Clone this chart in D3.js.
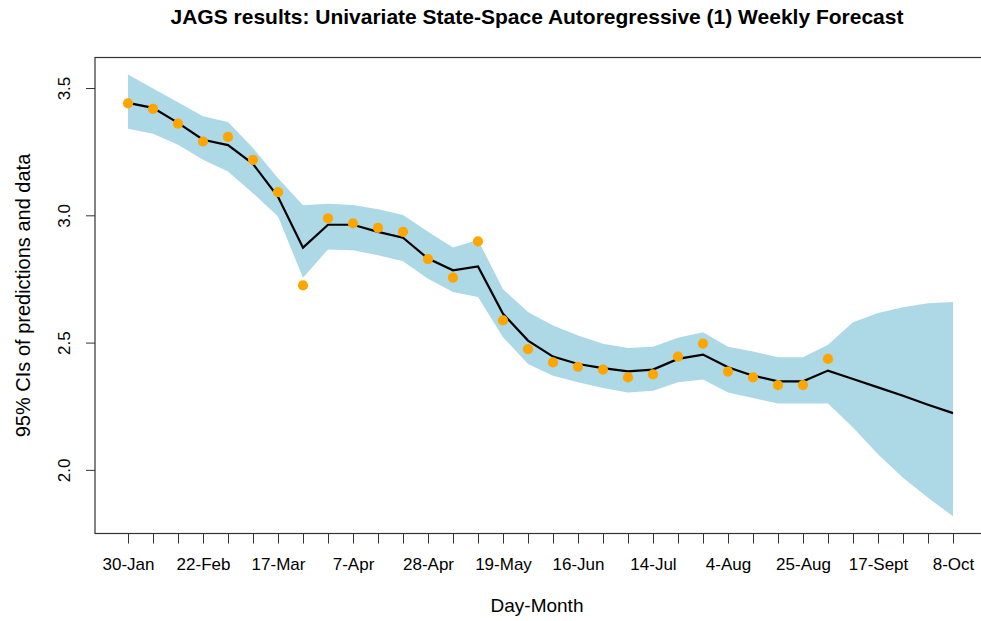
<!DOCTYPE html>
<meta charset="utf-8">
<style>
  body { margin: 0; background: #fff; }
  text { font-family: "Liberation Sans", Arial, sans-serif; fill: #000; }
  .band { fill: #add8e6; }
  .line { fill: none; stroke: #000; stroke-width: 2.2; }
  .dot { fill: #ffa500; }
  .axis path { display: none; }
  .axis line { stroke: #333; }
</style>

<body>
  <script src="https://d3js.org/d3.v7.min.js"></script>
  <script>

    // weekly labels (every 3rd week) and the series
    var tickLabels = ["30-Jan", "22-Feb", "17-Mar", "7-Apr", "28-Apr", "19-May",
      "16-Jun", "14-Jul", "4-Aug", "25-Aug", "17-Sept", "8-Oct"];

    var observed = [3.44, 3.418, 3.36, 3.29, 3.308, 3.218, 3.091, 2.725, 2.988, 2.968,
      2.951, 2.935, 2.828, 2.755, 2.898, 2.587, 2.474, 2.422, 2.405, 2.394,
      2.363, 2.375, 2.445, 2.496, 2.386, 2.363, 2.333, 2.333, 2.436];

    var predMean = [3.442, 3.422, 3.363, 3.297, 3.276, 3.202, 3.073, 2.873, 2.963, 2.963,
      2.935, 2.912, 2.83, 2.784, 2.799, 2.613, 2.508, 2.445, 2.416, 2.40,
      2.387, 2.394, 2.436, 2.453, 2.403, 2.37, 2.348, 2.348, 2.39, 2.357,
      2.324, 2.291, 2.256, 2.223];

    var predUpper = [3.553, 3.498, 3.444, 3.389, 3.367, 3.264, 3.146, 3.04, 3.045, 3.041,
      3.024, 3.001, 2.935, 2.874, 2.903, 2.71, 2.62, 2.567, 2.528, 2.495,
      2.479, 2.484, 2.519, 2.541, 2.484, 2.465, 2.442, 2.442, 2.492, 2.58,
      2.616, 2.639, 2.655, 2.659];

    var predLower = [3.34, 3.32, 3.277, 3.218, 3.172, 3.087, 2.995, 2.755, 2.866, 2.863,
      2.843, 2.82, 2.751, 2.699, 2.679, 2.521, 2.416, 2.37, 2.344, 2.322,
      2.304, 2.311, 2.344, 2.355, 2.304, 2.282, 2.261, 2.261, 2.261, 2.166,
      2.061, 1.969, 1.89, 1.818];

    var yTicks = [2.0, 2.5, 3.0, 3.5];

    // plot region (right edge falls just outside the window)
    var margin = { top: 57.5, right: 0, bottom: 87.5, left: 95 },
      plotW = 986 - margin.left,
      plotH = 621 - margin.top - margin.bottom;

    var n = predMean.length;
    var x = d3.scaleLinear().domain([-1.32, n - 1 + 1.32]).range([0, plotW]);
    var y = d3.scaleLinear().domain([1.75, 3.62]).range([plotH, 0]);

    var svg = d3.select("body").append("svg")
      .attr("width", 981)
      .attr("height", 621);

    var g = svg.append("g")
      .attr("transform", "translate(" + margin.left + "," + margin.top + ")");

    // credible interval band
    var area = d3.area()
      .x(function (d, i) { return x(i); })
      .y0(function (d, i) { return y(predLower[i]); })
      .y1(function (d, i) { return y(predUpper[i]); });

    g.append("path")
      .datum(predMean)
      .attr("class", "band")
      .attr("d", area);

    // predicted mean
    var line = d3.line()
      .x(function (d, i) { return x(i); })
      .y(function (d) { return y(d); });

    g.append("path")
      .datum(predMean)
      .attr("class", "line")
      .attr("d", line);

    // observed data
    g.selectAll(".dot")
      .data(observed)
      .enter().append("circle")
      .attr("class", "dot")
      .attr("cx", function (d, i) { return x(i); })
      .attr("cy", function (d) { return y(d); })
      .attr("r", 5.1);

    // box
    g.append("rect")
      .attr("width", plotW)
      .attr("height", plotH)
      .attr("fill", "none")
      .attr("stroke", "#333")
      .attr("stroke-width", 1.2);

    // x axis: a tick every week, a label every third week
    var xAxis = g.append("g")
      .attr("class", "axis")
      .attr("transform", "translate(0," + plotH + ")")
      .call(d3.axisBottom(x)
        .tickValues(d3.range(n))
        .tickSize(10)
        .tickPadding(14)
        .tickFormat(function (d) { return d % 3 === 0 ? tickLabels[d / 3] : ""; }));
    xAxis.selectAll("text")
      .style("font-size", "17px");

    // y axis with labels parallel to the axis
    var yAxis = g.append("g")
      .attr("class", "axis")
      .call(d3.axisLeft(y)
        .tickValues(yTicks)
        .tickSize(9)
        .tickFormat(d3.format(".1f")));
    yAxis.selectAll("text")
      .attr("x", null)
      .attr("dy", null)
      .attr("transform", "translate(-25,0) rotate(-90)")
      .attr("text-anchor", "middle")
      .style("font-size", "17px");

    // titles
    svg.append("text")
      .attr("x", 537)
      .attr("y", 24)
      .attr("text-anchor", "middle")
      .style("font-size", "21px")
      .style("font-weight", "bold")
      .text("JAGS results: Univariate State-Space Autoregressive (1) Weekly Forecast");

    svg.append("text")
      .attr("x", 537)
      .attr("y", 612)
      .attr("text-anchor", "middle")
      .style("font-size", "19px")
      .text("Day-Month");

    svg.append("text")
      .attr("transform", "translate(30," + (margin.top + plotH / 2) + ") rotate(-90)")
      .attr("text-anchor", "middle")
      .style("font-size", "20px")
      .text("95% CIs of predictions and data");

  </script>
</body>
